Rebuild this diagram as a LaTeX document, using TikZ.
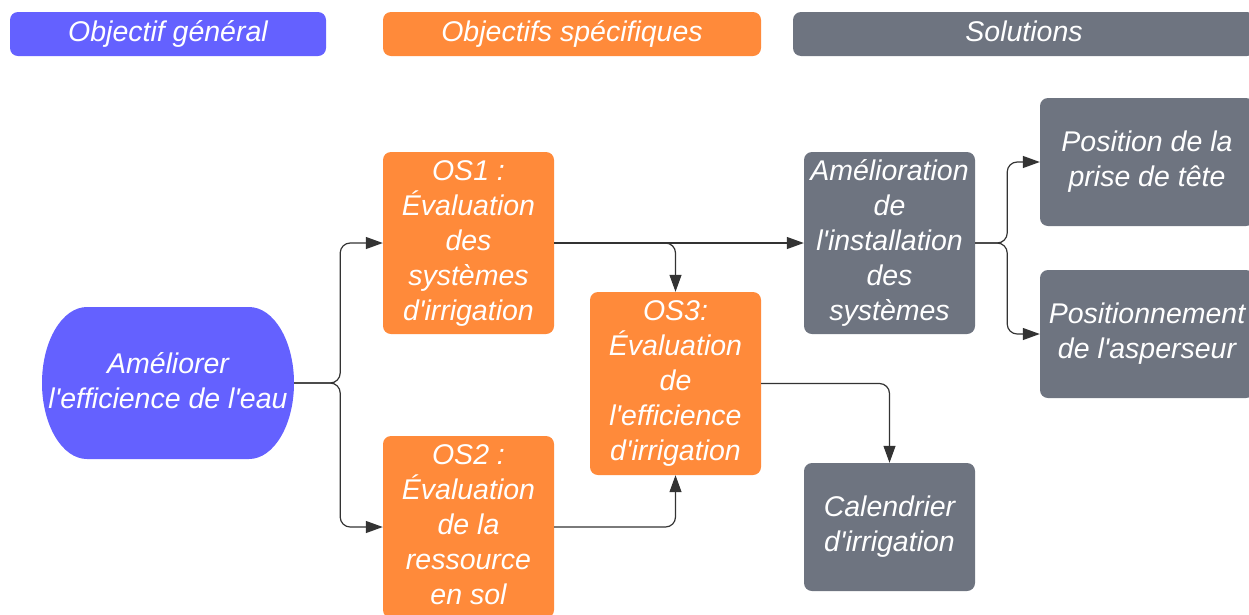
\documentclass[tikz,border=0pt]{standalone}
\usepackage{fontspec}
\setmainfont{Liberation Sans}
\usetikzlibrary{arrows.meta}
\definecolor{cbleu}{HTML}{6461FF}
\definecolor{corange}{HTML}{FF8A3A}
\definecolor{cgris}{HTML}{6E7480}
\definecolor{cfleche}{HTML}{333333}
\newcommand{\apo}{\textquotesingle}
\newcommand{\desc}{\vphantom{g}}
\tikzset{
	boite/.style={rounded corners=8pt, inner sep=0pt, align=center, text=white,
		font=\fontsize{28.5}{35}\selectfont\itshape},
	lien/.style={draw=cfleche, line width=1.2pt, rounded corners=10pt,
		-{Triangle[length=17pt,width=12pt]}}
}

\begin{document}
\begin{tikzpicture}[x=1pt,y=-1pt]
\clip (0,0) rectangle (1249,614);

% en-tetes
\node[boite, fill=cbleu, minimum width=316pt, minimum height=44pt] (t1) at (168,34) {Objectif général};
\node[boite, fill=corange, minimum width=378pt, minimum height=44pt] (t2) at (572,34) {Objectifs spécifiques};
\node[boite, fill=cgris, minimum width=462pt, minimum height=44pt] (t3) at (1024,34) {Solutions\desc};

% objectif general
\fill[cbleu] (87,307) -- (249,307) arc[start angle=90, end angle=-90, x radius=45pt, y radius=76pt]
	-- (87,459) arc[start angle=270, end angle=90, x radius=45pt, y radius=76pt] -- cycle;
\node[boite, minimum width=252pt, minimum height=152pt] (eau) at (168,383) {Améliorer\\l\apo efficience de l\apo eau\desc};

% objectifs specifiques
\node[boite, fill=corange, minimum width=171pt, minimum height=182pt] (os1) at (468.5,243)
	{OS1 :\\Évaluation\\des\\systèmes\\d\apo irrigation};
\node[boite, fill=corange, minimum width=171pt, minimum height=182pt] (os2) at (468.5,527)
	{OS2 :\\Évaluation\\de la\\ressource\\en sol\desc};
\node[boite, fill=corange, minimum width=171pt, minimum height=183pt] (os3) at (675.5,383.5)
	{OS3:\\Évaluation\\de\\l\apo efficience\\d\apo irrigation};

% solutions
\node[boite, fill=cgris, minimum width=171pt, minimum height=182pt] (amel) at (889.5,243)
	{Amélioration\\de\\l\apo installation\\des\\systèmes};
\node[boite, fill=cgris, minimum width=171pt, minimum height=128pt] (cal) at (889.5,527)
	{Calendrier\\d\apo irrigation};
\node[boite, fill=cgris, minimum width=214pt, minimum height=128pt] (pos) at (1147,162)
	{Position de la\\prise de tête};
\node[boite, fill=cgris, minimum width=214pt, minimum height=128pt] (posa) at (1147,334)
	{Positionnement\\de l\apo asperseur};

% liens
\draw[lien] (eau.east) -- ++(46,0) |- (os1.west);
\draw[lien] (eau.east) -- ++(46,0) |- (os2.west);
\draw[lien] (os1.east) -- (amel.west);
\draw[lien] (os1.east) -| (os3.north);
\draw[lien] (os2.east) -| (os3.south);
\draw[lien] (os3.east) -| (cal.north);
\draw[lien] (amel.east) -- ++(32,0) |- (pos.west);
\draw[lien] (amel.east) -- ++(32,0) |- (posa.west);

\end{tikzpicture}
\end{document}
